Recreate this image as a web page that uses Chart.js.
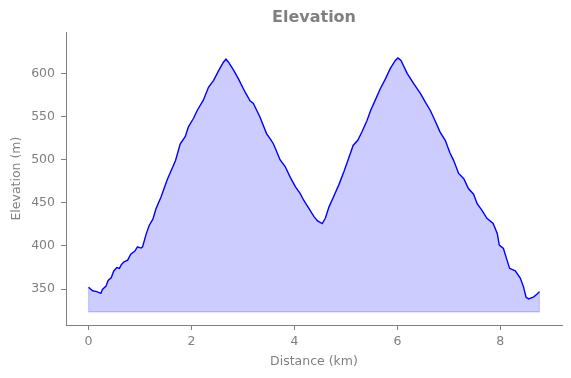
<!DOCTYPE html>
<html>
<head>
<meta charset="utf-8">
<script src="https://cdn.jsdelivr.net/npm/chart.js@4.4.1/dist/chart.umd.min.js"></script>
<style>
  html, body { margin: 0; padding: 0; background: #fff; }
  #wrap { width: 571px; height: 378px; }
</style>
</head>
<body>
<div id="wrap"><canvas id="chart" width="571" height="378"></canvas></div>
<script>
// elevation profile
const distanceKm = [
  0.00, 0.04, 0.08, 0.16, 0.24, 0.27, 0.34, 0.38, 0.44, 0.49,
  0.55, 0.60, 0.64, 0.69, 0.76, 0.82, 0.90, 0.95, 1.02, 1.05,
  1.12, 1.18, 1.25, 1.31, 1.41, 1.50, 1.53, 1.69, 1.78, 1.88,
  1.94, 2.04, 2.11, 2.23, 2.33, 2.43, 2.53, 2.62, 2.67, 2.72,
  2.82, 2.91, 3.04, 3.14, 3.20, 3.33, 3.46, 3.53, 3.59, 3.63,
  3.72, 3.82, 3.92, 4.02, 4.11, 4.18, 4.28, 4.38, 4.45, 4.54,
  4.60, 4.67, 4.76, 4.86, 4.96, 5.05, 5.14, 5.23, 5.31, 5.41,
  5.48, 5.57, 5.67, 5.77, 5.86, 5.96, 6.01, 6.07, 6.19, 6.32,
  6.45, 6.54, 6.64, 6.73, 6.83, 6.93, 7.02, 7.09, 7.19, 7.29,
  7.38, 7.48, 7.55, 7.64, 7.74, 7.86, 7.94, 7.98, 8.06, 8.13,
  8.18, 8.29, 8.39, 8.45, 8.50, 8.55, 8.65, 8.71, 8.76
];
const elevationM = [
  352, 350, 348, 347, 345, 349.5, 353.5, 360, 363, 371,
  375, 374, 378.5, 381.5, 383.5, 390.5, 394, 399, 397.5, 399,
  414, 424, 431, 443, 457, 472, 477, 499, 518, 527,
  538, 548, 557, 569, 584, 592, 603.5, 613, 616.5, 613,
  603.5, 594, 578.5, 568, 565.5, 549.5, 530, 524, 518.5, 513,
  500, 492, 479.5, 468.5, 461, 453, 443.5, 434, 429, 426,
  432, 445, 457, 470.5, 486, 501, 516.5, 522.5, 532, 545.5,
  557, 569, 582.5, 594, 605.5, 615, 618, 615, 600, 588,
  576.5, 567, 557, 545.5, 532, 522.5, 508, 499.5, 484, 478,
  466.5, 460, 449, 441.5, 432, 426, 414.5, 401, 397, 383.5,
  374, 371, 362.5, 352.5, 340.5, 338.5, 341, 344, 347
];
const fillBase = 323.5;
const xTicks = [0, 2, 4, 6, 8];
const yTicks = [350, 400, 450, 500, 550, 600];

const GREY = '#808080';
const points = distanceKm.map((d, i) => ({ x: d, y: elevationM[i] }));
const last = distanceKm.length - 1;
const fillEdge = [
  { x: distanceKm[0], y: elevationM[0] },
  { x: distanceKm[0], y: fillBase },
  { x: distanceKm[last], y: fillBase },
  { x: distanceKm[last], y: elevationM[last] },
];

new Chart(document.getElementById('chart'), {
  type: 'line',
  data: {
    datasets: [
      {
        data: fillEdge,
        borderColor: 'rgba(0,0,255,0.2)',
        borderWidth: 1.2,
        pointRadius: 0,
        fill: false,
      },
      {
        data: points,
        borderColor: '#0000ff',
        borderWidth: 1.4,
        backgroundColor: 'rgba(0,0,255,0.2)',
        pointRadius: 0,
        tension: 0,
        fill: { value: fillBase },
      },
    ],
  },
  options: {
    responsive: false,
    animation: false,
    layout: { padding: { left: 0, right: 9, top: 0, bottom: 0 } },
    plugins: {
      legend: { display: false },
      tooltip: { enabled: false },
      title: {
        display: true,
        text: 'Elevation',
        fullSize: false,
        color: GREY,
        font: { family: 'DejaVu Sans', size: 16, weight: 'bold' },
        padding: { top: 8, bottom: 5 },
      },
    },
    scales: {
      x: {
        type: 'linear',
        min: -0.438,
        max: 9.198,
        afterBuildTicks: s => { s.ticks = xTicks.map(v => ({ value: v })); },
        afterFit: s => { s.height = 53; },
        grid: { display: true, drawOnChartArea: false, drawTicks: true, tickLength: 5, color: GREY, lineWidth: 1 },
        border: { display: true, color: GREY, width: 1 },
        ticks: { color: GREY, font: { family: 'DejaVu Sans', size: 12.5 }, padding: 4, maxRotation: 0 },
        title: {
          display: true,
          text: 'Distance (km)',
          color: GREY,
          font: { family: 'DejaVu Sans', size: 12.5 },
          padding: { top: 0, bottom: 8.5 },
        },
      },
      y: {
        type: 'linear',
        min: 308.3,
        max: 647.8,
        afterBuildTicks: s => { s.ticks = yTicks.map(v => ({ value: v })); },
        afterFit: s => { s.width = 66; },
        grid: { display: true, drawOnChartArea: false, drawTicks: true, tickLength: 5, color: GREY, lineWidth: 1 },
        border: { display: true, color: GREY, width: 1 },
        ticks: { color: GREY, font: { family: 'DejaVu Sans', size: 12.5 }, padding: 6 },
        title: {
          display: true,
          text: 'Elevation (m)',
          color: GREY,
          font: { family: 'DejaVu Sans', size: 12.5 },
          padding: { top: 9, bottom: 0 },
        },
      },
    },
  },
});
</script>
</body>
</html>
